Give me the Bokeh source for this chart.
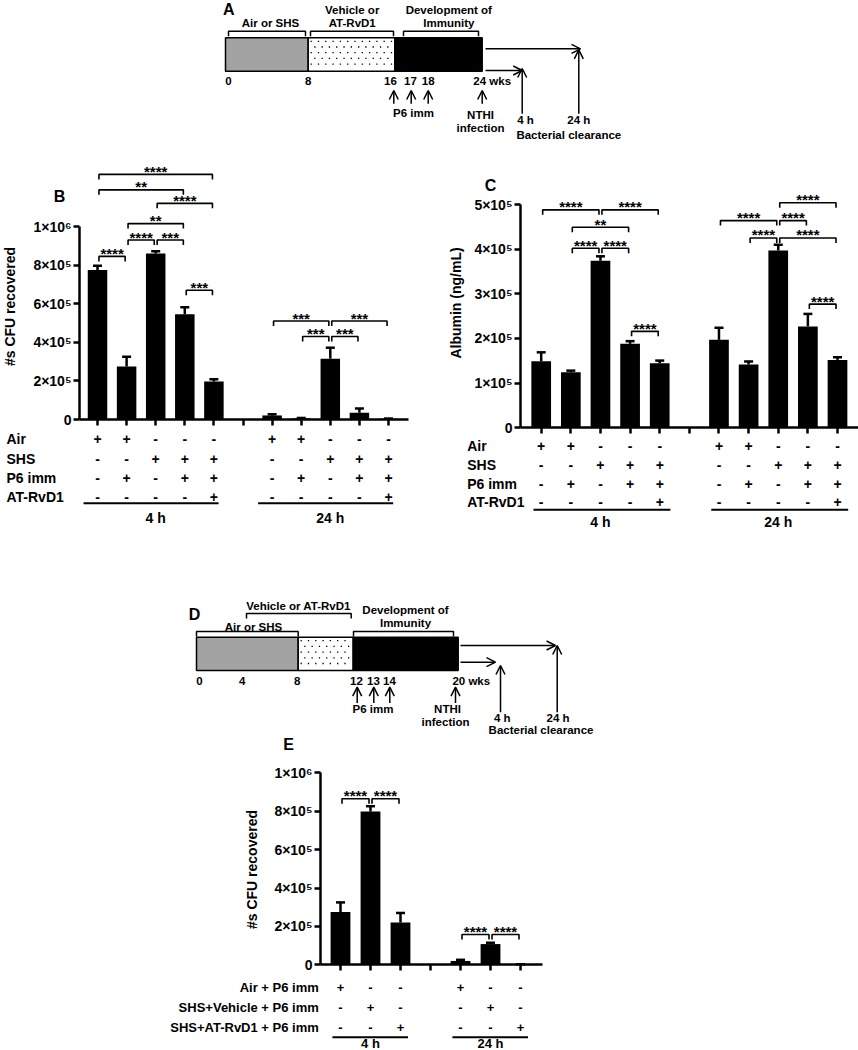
import math
import numpy as np
from bokeh.plotting import figure
from bokeh.models import Range1d, FixedTicker, Whisker, TeeHead, Arrow, OpenHead, ColumnDataSource
from bokeh.layouts import column, row
from bokeh.core.properties import value
from bokeh.embed import file_html
from bokeh.resources import INLINE

FONT = "Liberation Sans"

# ---------------- data ----------------
group_labels = ["4 h", "24 h"]

# Panel B: bacterial CFU recovered
B_cfu_4h = [7.75e5, 2.75e5, 8.60e5, 5.45e5, 1.97e5]
B_err_4h = [2.2e4, 5.0e4, 1.2e4, 3.6e4, 1.2e4]
B_cfu_24h = [2.1e4, 6.0e3, 3.15e5, 3.5e4, 4.0e3]
B_err_24h = [6.0e3, 2.0e3, 5.7e4, 2.2e4, 1.0e3]
B_ticks = [0, 200000, 400000, 600000, 800000, 1000000]
B_tick_labels = ["0", "2×10⁵", "4×10⁵", "6×10⁵", "8×10⁵", "1×10⁶"]
# (left slot, right slot, height, stars); 4 h bars at slots 1-5, 24 h bars at 7-11
B_sig = [(1, 5, 1.27e6, "****"), (1, 4, 1.19e6, "**"), (3, 5, 1.12e6, "****"),
         (2, 4, 1.015e6, "**"), (2, 3, 0.93e6, "****"), (3, 4, 0.93e6, "***"),
         (1, 2, 0.845e6, "****"), (4, 5, 0.67e6, "***"),
         (7, 9, 0.51e6, "***"), (9, 11, 0.51e6, "***"),
         (8, 9, 0.43e6, "***"), (9, 10, 0.43e6, "***")]

# Panel C: albumin
C_alb_4h = [1.49e5, 1.245e5, 3.74e5, 1.88e5, 1.445e5]
C_err_4h = [2.0e4, 3.5e3, 1.0e4, 6.0e3, 6.0e3]
C_alb_24h = [1.97e5, 1.415e5, 3.97e5, 2.27e5, 1.52e5]
C_err_24h = [2.7e4, 7.0e3, 1.3e4, 2.8e4, 6.0e3]
C_ticks = [0, 100000, 200000, 300000, 400000, 500000]
C_tick_labels = ["0", "1×10⁵", "2×10⁵", "3×10⁵", "4×10⁵", "5×10⁵"]
C_sig = [(1, 3, 4.88e5, "****"), (3, 5, 4.88e5, "****"), (2, 4, 4.49e5, "**"),
         (2, 3, 4.02e5, "****"), (3, 4, 4.02e5, "****"), (4, 5, 2.16e5, "****"),
         (9, 11, 5.04e5, "****"), (7, 9, 4.64e5, "****"), (9, 10, 4.64e5, "****"),
         (8, 9, 4.25e5, "****"), (9, 11, 4.25e5, "****"), (10, 11, 2.77e5, "****")]

BC_rows = ["Air", "SHS", "P6 imm", "AT-RvD1"]
BC_signs = [["+", "+", "-", "-", "-"],
            ["-", "-", "+", "+", "+"],
            ["-", "+", "-", "+", "+"],
            ["-", "-", "-", "-", "+"]]

# Panel E
E_cfu_4h = [2.75e5, 7.98e5, 2.20e5]
E_err_4h = [5.0e4, 2.8e4, 5.0e4]
E_cfu_24h = [2.0e4, 1.08e5, 2.0e3]
E_err_24h = [6.0e3, 7.0e3, 1.0e3]
E_sig = [(1, 2, 8.65e5, "****"), (2, 3, 8.65e5, "****"),
         (5, 6, 1.58e5, "****"), (6, 7, 1.58e5, "****")]
E_rows = ["Air + P6 imm", "SHS+Vehicle + P6 imm", "SHS+AT-RvD1 + P6 imm"]
E_signs = [["+", "-", "-"], ["-", "+", "-"], ["-", "-", "+"]]

# Schematic A
A_phase_names = ["Air or SHS", "Vehicle or\nAT-RvD1", "Development of\nImmunity"]
A_week_labels = ["0", "8", "16", "17", "18", "24 wks"]
# Schematic D
D_phase_names = ["Air or SHS", "Vehicle or AT-RvD1", "Development of\nImmunity"]
D_week_labels = ["0", "4", "8", "12", "13", "14", "20 wks"]

PAGE_W = 858


def txt(fs):
    return dict(text_font=value(FONT), text_font_style="bold",
                text_font_size=f"{fs}px", text_color="black")


def base_fig(w, h, xr, yr):
    p = figure(width=w, height=h, x_range=Range1d(*xr), y_range=Range1d(*yr),
               output_backend="svg", toolbar_location=None, min_border=0)
    p.outline_line_color = None
    p.xgrid.visible = False
    p.ygrid.visible = False
    p.background_fill_color = "white"
    p.border_fill_color = "white"
    return p


def bar_panel(g, v4, e4, v24, e24, ticks, tick_labels, sig, rows, signs, letter, ylabel):
    upp = g["upp"]
    xm = lambda px: 1 + (px - g["slot1"]) / g["sp"]
    ym = lambda py: (g["zero"] - py) * upp
    w, h = g["w"], g["h"]
    p = base_fig(w, h, (xm(g["x0"]), xm(g["x0"] + w)), (ym(g["y0"] + h), ym(g["y0"])))
    n = len(v4)
    s4 = [i + 1 for i in range(n)]
    s24 = [n + 2 + i for i in range(n)]
    slots = s4 + s24
    vals = v4 + v24
    errs = e4 + e24
    p.vbar(x=slots, top=vals, bottom=0, width=g["bw"], fill_color="black", line_color=None)
    src = ColumnDataSource(dict(x=slots, lo=vals, up=[v + e for v, e in zip(vals, errs)]))
    wk = Whisker(base="x", lower="lo", upper="up", source=src, line_width=2.5, line_color="black",
                 upper_head=TeeHead(size=9, line_width=2.5, line_color="black"), lower_head=None)
    p.add_layout(wk)

    xa = p.xaxis[0]
    xa.fixed_location = 0
    xa.bounds = (xm(g["ax"]), xm(g["axend"]))
    xa.ticker = FixedTicker(ticks=list(range(1, 2 * n + 2)))
    xa.major_label_text_color = None
    xa.major_tick_out = 6
    xa.major_tick_in = 0
    xa.minor_tick_line_color = None
    xa.axis_line_width = 2.5
    xa.major_tick_line_width = 2.5

    ya = p.yaxis[0]
    ya.fixed_location = xm(g["ax"])
    ya.bounds = (0, ticks[-1])
    ya.ticker = FixedTicker(ticks=ticks)
    ya.major_label_overrides = {t: l for t, l in zip(ticks, tick_labels)}
    ya.major_tick_out = 6
    ya.major_tick_in = 0
    ya.minor_tick_line_color = None
    ya.axis_line_width = 2.5
    ya.major_tick_line_width = 2.5
    ya.major_label_standoff = 2
    ya.major_label_text_font = FONT
    ya.major_label_text_font_style = "bold"
    ya.major_label_text_font_size = f"{g['fs']}px"
    ya.major_label_text_color = "black"

    # significance brackets
    tip = 5 * upp
    xs, ys, tx, ty, tt = [], [], [], [], []
    for a, b, y, lab in sig:
        x0, x1 = a + 0.05, b - 0.05
        xs.append([x0, x0, x1, x1])
        ys.append([y - tip, y, y, y - tip])
        tx.append((x0 + x1) / 2)
        ty.append(y + 3 * upp)
        tt.append(lab)
    p.multi_line(xs=xs, ys=ys, line_color="black", line_width=1.6)
    p.text(x=tx, y=ty, text=tt, text_align="center", text_baseline="alphabetic", **txt(15))

    # table
    for i, (name, sg) in enumerate(zip(rows, signs)):
        yy = ym(g["rows"][i])
        p.text(x=[xm(g["lab_x"])], y=[yy], text=[name], text_align=g["lab_align"],
               text_baseline="middle", **txt(g["tfs"]))
        p.text(x=slots, y=[yy] * len(slots), text=sg + sg, text_align="center",
               text_baseline="middle", **txt(g["tfs"]))
    yu = ym(g["uline"])
    pl, pr = g["upad"]
    p.segment(x0=[s4[0] - pl, s24[0] - pl], x1=[s4[-1] + pr, s24[-1] + pr],
              y0=[yu, yu], y1=[yu, yu], line_color="black", line_width=2)
    p.text(x=[sum(s4) / n, sum(s24) / n], y=[ym(g["grp"])] * 2, text=group_labels,
           text_align="center", text_baseline="middle", **txt(g["tfs"]))

    lx, ly = g["ylab"]
    p.text(x=[xm(lx)], y=[ym(ly)], text=[ylabel], angle=math.pi / 2, text_align="center",
           text_baseline="middle", **txt(g["fs"]))
    kx, ky = g["letter"]
    p.text(x=[xm(kx)], y=[ym(ky)], text=[letter], text_align="center", text_baseline="middle",
           **txt(16))
    return p


def arrows(p, x0, y0, x1, y1):
    src = ColumnDataSource(dict(x0=x0, y0=y0, x1=x1, y1=y1))
    p.add_layout(Arrow(end=OpenHead(size=9, line_width=1.5, line_color="black"),
                       x_start="x0", y_start="y0", x_end="x1", y_end="y1", source=src,
                       line_width=1.5, line_color="black"))


def schematic(h, y0, gm):
    p = base_fig(PAGE_W, h, (0, PAGE_W), (y0 + h, y0))
    p.xaxis.visible = False
    p.yaxis.visible = False
    bx = gm["box_x"]
    bt, bb = gm["box_y"]
    p.quad(left=[bx[0]], right=[bx[1]], top=[bt], bottom=[bb], fill_color="#a3a3a3",
           line_color="black", line_width=1.5)
    p.quad(left=[bx[1]], right=[bx[2]], top=[bt], bottom=[bb], fill_color="white",
           line_color="black", line_width=1.5)
    # stippled texture of the treatment phase
    dx, dy = 7.3, 5.7
    px_, py_ = [], []
    for k, yy in enumerate(np.arange(bt + 3.5, bb - 2, dy)):
        off = 0 if k % 2 == 0 else dx / 2
        for xx in np.arange(bx[1] + 3 + off, bx[2] - 2, dx):
            px_.append(xx)
            py_.append(yy)
    p.scatter(x=px_, y=py_, marker="square", size=1.3, fill_color="black", line_color=None)
    p.quad(left=[bx[2]], right=[bx[3]], top=[bt], bottom=[bb], fill_color="black",
           line_color="black", line_width=1.5)
    # week labels
    p.text(x=gm["wk_x"], y=[gm["wk_y"]] * len(gm["wk_x"]), text=gm["wk_lab"], text_align="center",
           text_baseline="middle", **txt(11.5))
    # brackets over phases
    xs, ys = [], []
    for (a, b, y) in gm["brackets"]:
        xs.append([a, a, b, b])
        ys.append([y + 5, y, y, y + 5])
    p.multi_line(xs=xs, ys=ys, line_color="black", line_width=1.5)
    for (x, y, t) in gm["labels"]:
        p.text(x=[x], y=[y], text=[t], text_align="center", text_baseline="middle", **txt(11.5))
    # immunisation and infection arrows
    ax = gm["up_x"]
    a0, a1 = gm["up_y"]
    arrows(p, ax, [a0] * len(ax), ax, [a1] * len(ax))
    hx0, hx1, hy = gm["h_arrows"]
    arrows(p, hx0, hy, hx1, hy)
    vx, vy0, vy1 = gm["v_arrows"]
    arrows(p, vx, vy0, vx, vy1)
    kx, ky = gm["letter_pos"]
    p.text(x=[kx], y=[ky], text=[gm["letter"]], text_align="center", text_baseline="middle", **txt(16))
    return p


gA = dict(box_x=[225, 307.7, 394.3, 481.7], box_y=(37.3, 70.7),
          wk_x=[228, 307.7, 390, 410, 427.7, 491.7], wk_y=80.8, wk_lab=A_week_labels,
          brackets=[(228, 305, 30.7), (310, 393, 30.7), (403, 478, 30.7)],
          labels=[(270, 22.5, "Air or SHS"), (351.7, 9.5, A_phase_names[1].split("\n")[0]),
                  (351.7, 22, A_phase_names[1].split("\n")[1]),
                  (448.3, 9.5, A_phase_names[2].split("\n")[0]),
                  (448.3, 22.5, A_phase_names[2].split("\n")[1]),
                  (413, 112.5, "P6 imm"), (480, 114, "NTHI"), (480, 127.5, "infection"),
                  (525, 119, "4 h"), (578.3, 119, "24 h"), (568.3, 134, "Bacterial clearance")],
          up_x=[393.3, 410.7, 427.7, 481.7], up_y=(103.3, 90),
          h_arrows=([485, 485], [580, 521.7], [48.3, 70]),
          v_arrows=([521.7, 578.3], [113.3, 113.3], [68, 49.3]),
          letter="A", letter_pos=(228.3, 9))

gD = dict(box_x=[196, 297.7, 352.7, 457.7], box_y=(636.7, 670),
          wk_x=[199, 241.7, 296.7, 356, 373, 389, 470.8], wk_y=680.7, wk_lab=D_week_labels,
          brackets=[(196, 297.7, 631), (246, 350.7, 613), (353, 453, 631)],
          labels=[(253, 626, D_phase_names[0]), (298, 605, D_phase_names[1]),
                  (405, 609.5, D_phase_names[2].split("\n")[0]),
                  (405, 622.5, D_phase_names[2].split("\n")[1]),
                  (372.5, 708.3, "P6 imm"), (447, 708, "NTHI"), (445, 721.5, "infection"),
                  (501.7, 717, "4 h"), (557.5, 717, "24 h"), (540.5, 729.5, "Bacterial clearance")],
          up_x=[356.7, 373.3, 389.3, 455], up_y=(702.5, 686.7),
          h_arrows=([460, 460], [555, 495], [645, 661.7]),
          v_arrows=([500, 556.7], [711.7, 711.7], [665, 645]),
          letter="D", letter_pos=(194, 614))

gB = dict(w=425, h=415, x0=0, y0=145, slot1=97, sp=29.1, zero=419, upp=1e6 / 193,
          bw=0.67, ax=79, axend=408, fs=14, tfs=14,
          rows=[438.3, 458.3, 477.3, 496.7], lab_x=6, lab_align="left",
          uline=502.7, upad=(0.48, 0.16), grp=517.7, ylab=(9, 306), letter=(59, 196))
gC = dict(w=433, h=415, x0=425, y0=145, slot1=540.7, sp=29.63, zero=427.3, upp=1e5 / 44.66,
          bw=0.665, ax=520, axend=858, fs=14, tfs=14,
          rows=[445, 464.3, 483.3, 501.7], lab_x=466.7, lab_align="left",
          uline=509.3, upad=(0.26, 0.36), grp=521.7, ylab=(455, 302.5), letter=(490, 185))
gE = dict(w=858, h=314, x0=0, y0=736, slot1=340, sp=30, zero=964.3, upp=1e6 / 192,
          bw=0.66, ax=320, axend=541.7, fs=14, tfs=13,
          rows=[987.3, 1007.3, 1027.3], lab_x=318.3, lab_align="right",
          uline=1036.7, upad=(0.27, 0.25), grp=1043, ylab=(251.7, 869), letter=(288, 744))

pA = schematic(145, 0, gA)
pB = bar_panel(gB, B_cfu_4h, B_err_4h, B_cfu_24h, B_err_24h, B_ticks, B_tick_labels, B_sig,
               BC_rows, BC_signs, "B", "#s CFU recovered")
pC = bar_panel(gC, C_alb_4h, C_err_4h, C_alb_24h, C_err_24h, C_ticks, C_tick_labels, C_sig,
               BC_rows, BC_signs, "C", "Albumin (ng/mL)")
pD = schematic(176, 560, gD)
pE = bar_panel(gE, E_cfu_4h, E_err_4h, E_cfu_24h, E_err_24h, B_ticks, B_tick_labels, E_sig,
               E_rows, E_signs, "E", "#s CFU recovered")

layout = column(pA, row(pB, pC), pD, pE)
open("out.html", "w").write(file_html(layout, INLINE))
